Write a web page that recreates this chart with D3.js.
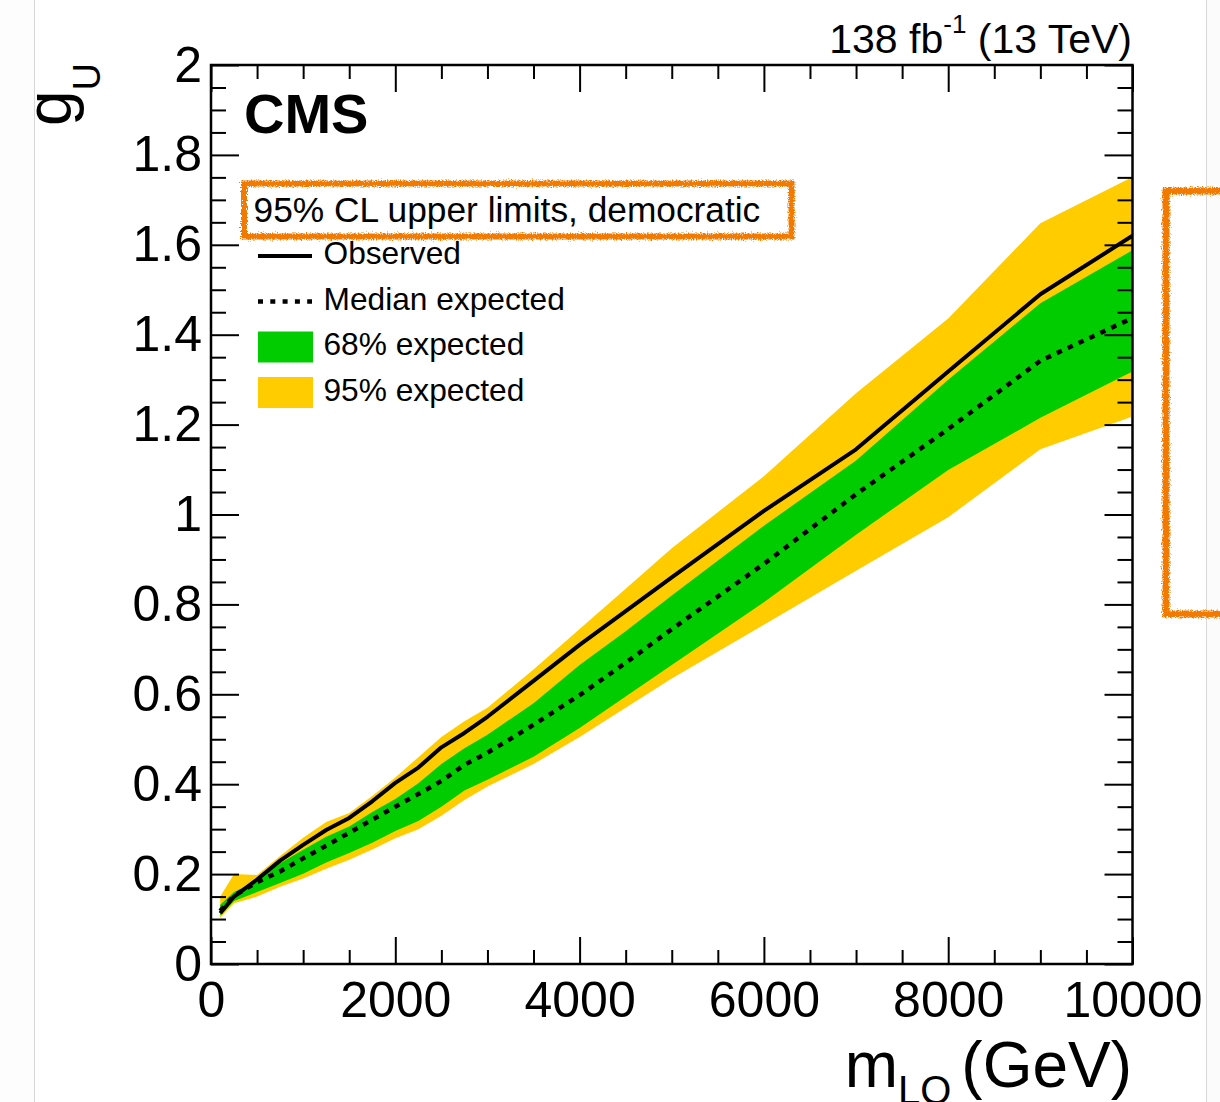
<!DOCTYPE html>
<html>
<head>
<meta charset="utf-8">
<script src="https://cdn.jsdelivr.net/npm/d3@7"></script>
<style>
  html, body { margin: 0; padding: 0; background: #ffffff; }
  svg { display: block; font-family: "Liberation Sans", Arial, Helvetica, sans-serif; }
</style>
</head>
<body>
<svg id="chart" width="1220" height="1102"></svg>
<script>
// Leptoquark mass points (GeV) and 95% CL upper limits on the coupling g_U
const massGeV   = [100, 250, 500, 750, 1000, 1250, 1500, 1750, 2000, 2250, 2500, 2750, 3000, 3500, 4000, 4500, 5000, 6000, 7000, 8000, 9000, 10000];
const observed  = [0.113, 0.150, 0.188, 0.230, 0.265, 0.298, 0.325, 0.362, 0.403, 0.437, 0.482, 0.514, 0.550, 0.630, 0.710, 0.785, 0.860, 1.008, 1.145, 1.318, 1.490, 1.620];
const expMedian = [0.118, 0.152, 0.182, 0.206, 0.235, 0.263, 0.292, 0.321, 0.350, 0.378, 0.407, 0.443, 0.470, 0.532, 0.598, 0.670, 0.745, 0.890, 1.045, 1.190, 1.342, 1.437];
const exp68Low  = [0.108, 0.140, 0.160, 0.180, 0.201, 0.226, 0.247, 0.270, 0.296, 0.318, 0.350, 0.386, 0.410, 0.461, 0.525, 0.595, 0.665, 0.805, 0.955, 1.099, 1.215, 1.318];
const exp68High = [0.132, 0.160, 0.185, 0.224, 0.254, 0.283, 0.306, 0.338, 0.367, 0.402, 0.445, 0.480, 0.510, 0.580, 0.665, 0.740, 0.820, 0.975, 1.120, 1.300, 1.470, 1.588];
const exp95Low  = [0.103, 0.135, 0.150, 0.172, 0.190, 0.212, 0.232, 0.255, 0.280, 0.300, 0.330, 0.365, 0.395, 0.445, 0.505, 0.570, 0.635, 0.755, 0.875, 0.994, 1.145, 1.218];
const exp95High = [0.150, 0.200, 0.198, 0.240, 0.281, 0.316, 0.336, 0.374, 0.415, 0.460, 0.505, 0.540, 0.570, 0.655, 0.745, 0.835, 0.925, 1.085, 1.270, 1.436, 1.648, 1.751];

// Axis tick values
const xMajorTicks = [0, 2000, 4000, 6000, 8000, 10000];
const yMajorTicks = [0, 0.2, 0.4, 0.6, 0.8, 1.0, 1.2, 1.4, 1.6, 1.8, 2.0];
const xMinorStep = 500;
const yMinorStep = 0.05;

// Legend text
const legendHeader = "95% CL upper limits, democratic";
const legendLabels = ["Observed", "Median expected", "68% expected", "95% expected"];

const COLORS = { green: "#00cc00", yellow: "#ffcc00", line: "#000000", note: "#f27a00" };
const frame = { left: 211, right: 1132.5, top: 65, bottom: 964 };

const svg = d3.select("#chart");

// Page backdrop with thin side rules
svg.append("rect").attr("x", 0).attr("y", 0).attr("width", 1220).attr("height", 1102).attr("fill", "#ffffff");
svg.append("rect").attr("x", 1206.5).attr("y", 0).attr("width", 14).attr("height", 1102).attr("fill", "#fbfbfb");
svg.append("rect").attr("x", 0).attr("y", 0).attr("width", 34).attr("height", 1102).attr("fill", "#fdfdfd");
[34.5, 1206.5].forEach(xp => svg.append("line")
  .attr("x1", xp).attr("x2", xp).attr("y1", 0).attr("y2", 1102)
  .attr("stroke", "#d6d6d6").attr("stroke-width", 1));

// Hand-drawn look for the annotation outlines
const defs = svg.append("defs");
const rough = defs.append("filter").attr("id", "rough")
  .attr("x", "-10%").attr("y", "-10%").attr("width", "120%").attr("height", "120%");
rough.append("feTurbulence").attr("type", "fractalNoise").attr("baseFrequency", 0.8)
  .attr("numOctaves", 2).attr("seed", 3).attr("result", "noise");
rough.append("feDisplacementMap").attr("in", "SourceGraphic").attr("in2", "noise")
  .attr("scale", 6).attr("xChannelSelector", "R").attr("yChannelSelector", "G");

defs.append("clipPath").attr("id", "plotClip").append("rect")
  .attr("x", frame.left).attr("y", frame.top)
  .attr("width", frame.right - frame.left).attr("height", frame.bottom - frame.top);

const x = d3.scaleLinear().domain([0, 10000]).range([frame.left, frame.right]);
const y = d3.scaleLinear().domain([0, 2]).range([frame.bottom, frame.top]);

const rows = massGeV.map((m, i) => ({
  m, obs: observed[i], med: expMedian[i],
  lo68: exp68Low[i], hi68: exp68High[i], lo95: exp95Low[i], hi95: exp95High[i]
}));

// Bands and limit curves
const plot = svg.append("g").attr("clip-path", "url(#plotClip)");
const band = (lo, hi) => d3.area().x(d => x(d.m)).y0(d => y(d[lo])).y1(d => y(d[hi]));
plot.append("path").datum(rows).attr("d", band("lo95", "hi95")).attr("fill", COLORS.yellow);
plot.append("path").datum(rows).attr("d", band("lo68", "hi68")).attr("fill", COLORS.green);

const curve = key => d3.line().x(d => x(d.m)).y(d => y(d[key]));
plot.append("path").datum(rows).attr("d", curve("med"))
  .attr("fill", "none").attr("stroke", COLORS.line).attr("stroke-width", 4.5)
  .attr("stroke-dasharray", "5.5,6.5");
plot.append("path").datum(rows).attr("d", curve("obs"))
  .attr("fill", "none").attr("stroke", COLORS.line).attr("stroke-width", 4)
  .attr("stroke-linejoin", "round");

// Axes: ticks point inward on all four sides
const xMinor = d3.range(0, 10001, xMinorStep).filter(v => v % 2000 !== 0);
const yMinor = d3.range(0, 40.5, 1).map(k => k * yMinorStep).filter(v => Math.abs(v * 5 - Math.round(v * 5)) > 1e-6);
const fmtY = d => String(+d.toFixed(1));

function styleAxis(sel, withLabels) {
  sel.select(".domain").remove();
  sel.selectAll(".tick line").attr("stroke", "#000").attr("stroke-width", 2);
  sel.attr("font-family", "'Liberation Sans', Arial, sans-serif").attr("font-size", 50);
  sel.selectAll(".tick text").attr("fill", "#000");
  if (!withLabels) sel.selectAll(".tick text").remove();
}

const axes = svg.append("g");
axes.append("g").attr("transform", `translate(0,${frame.bottom})`)
  .call(d3.axisBottom(x).tickValues(xMajorTicks).tickSize(-27).tickSizeOuter(0).tickPadding(17).tickFormat(d3.format("d")))
  .call(s => styleAxis(s, true));
axes.append("g").attr("transform", `translate(0,${frame.bottom})`)
  .call(d3.axisBottom(x).tickValues(xMinor).tickSize(-14).tickSizeOuter(0))
  .call(s => styleAxis(s, false));
axes.append("g").attr("transform", `translate(0,${frame.top})`)
  .call(d3.axisTop(x).tickValues(xMajorTicks).tickSize(-27).tickSizeOuter(0))
  .call(s => styleAxis(s, false));
axes.append("g").attr("transform", `translate(0,${frame.top})`)
  .call(d3.axisTop(x).tickValues(xMinor).tickSize(-14).tickSizeOuter(0))
  .call(s => styleAxis(s, false));

axes.append("g").attr("transform", `translate(${frame.left},0)`)
  .call(d3.axisLeft(y).tickValues(yMajorTicks).tickSize(-28).tickSizeOuter(0).tickPadding(9).tickFormat(fmtY))
  .call(s => styleAxis(s, true));
axes.append("g").attr("transform", `translate(${frame.left},0)`)
  .call(d3.axisLeft(y).tickValues(yMinor).tickSize(-15).tickSizeOuter(0))
  .call(s => styleAxis(s, false));
axes.append("g").attr("transform", `translate(${frame.right},0)`)
  .call(d3.axisRight(y).tickValues(yMajorTicks).tickSize(-28).tickSizeOuter(0))
  .call(s => styleAxis(s, false));
axes.append("g").attr("transform", `translate(${frame.right},0)`)
  .call(d3.axisRight(y).tickValues(yMinor).tickSize(-15).tickSizeOuter(0))
  .call(s => styleAxis(s, false));

// Frame
svg.append("rect").attr("x", frame.left).attr("y", frame.top)
  .attr("width", frame.right - frame.left).attr("height", frame.bottom - frame.top)
  .attr("fill", "none").attr("stroke", "#000").attr("stroke-width", 2.5);

// Axis titles
const xt = svg.append("text").attr("x", 1132).attr("y", 1087).attr("text-anchor", "end")
  .attr("font-size", 64).attr("fill", "#000");
xt.append("tspan").text("m");
xt.append("tspan").attr("font-size", 40).attr("dy", 17).text("LQ");
xt.append("tspan").attr("dy", -17).attr("dx", 10).text("(GeV)");

const yt = svg.append("text").attr("transform", "translate(71,126) rotate(-90)")
  .attr("font-size", 64).attr("fill", "#000");
yt.append("tspan").text("g");
yt.append("tspan").attr("font-size", 38).attr("dy", 29).text("U");

// Luminosity / energy label
const lumi = svg.append("text").attr("x", 1132).attr("y", 53).attr("text-anchor", "end")
  .attr("font-size", 41).attr("fill", "#000");
lumi.append("tspan").text("138 fb");
lumi.append("tspan").attr("font-size", 26).attr("dy", -20).text("-1");
lumi.append("tspan").attr("dy", 20).text(" (13 TeV)");

// Experiment label
svg.append("text").attr("x", 244).attr("y", 133).attr("font-size", 56)
  .attr("font-weight", "bold").attr("fill", "#000").text("CMS");

// Legend
svg.append("text").attr("x", 253.5).attr("y", 222).attr("font-size", 35.3).attr("fill", "#000").text(legendHeader);
const legendY = i => 256 + i * 45.5;
const lg = svg.append("g");
lg.append("line").attr("x1", 258).attr("x2", 312).attr("y1", legendY(0)).attr("y2", legendY(0))
  .attr("stroke", COLORS.line).attr("stroke-width", 4);
lg.append("line").attr("x1", 258).attr("x2", 312).attr("y1", legendY(1)).attr("y2", legendY(1))
  .attr("stroke", COLORS.line).attr("stroke-width", 4.5).attr("stroke-dasharray", "5,7.3");
lg.append("rect").attr("x", 258).attr("y", legendY(2) - 15.5).attr("width", 55).attr("height", 31).attr("fill", COLORS.green);
lg.append("rect").attr("x", 258).attr("y", legendY(3) - 15.5).attr("width", 55).attr("height", 31).attr("fill", COLORS.yellow);
legendLabels.forEach((t, i) => lg.append("text").attr("x", 323.5).attr("y", legendY(i) + 8)
  .attr("font-size", 31.7).attr("fill", "#000").text(t));

// Orange annotation outlines
const notes = svg.append("g").attr("filter", "url(#rough)");
notes.append("rect").attr("x", 244).attr("y", 183.5).attr("width", 547.5).attr("height", 53)
  .attr("fill", "none").attr("stroke", COLORS.note).attr("stroke-width", 6);
notes.append("rect").attr("x", 1166).attr("y", 191).attr("width", 80).attr("height", 423)
  .attr("fill", "none").attr("stroke", COLORS.note).attr("stroke-width", 7);
</script>
</body>
</html>
